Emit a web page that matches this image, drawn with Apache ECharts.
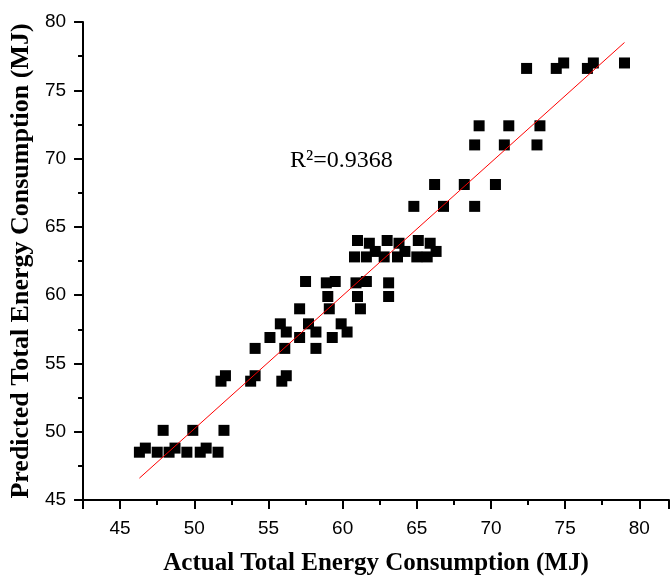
<!DOCTYPE html>
<html>
<head>
<meta charset="utf-8">
<title>Actual vs Predicted Energy</title>
<script src="https://cdn.jsdelivr.net/npm/echarts@6/dist/echarts.min.js"></script>
<style>
  html, body { margin: 0; padding: 0; background: #fff; }
  #chart { width: 672px; height: 581px; }
</style>
</head>
<body>
<div id="chart"></div>
<script>
// measured values (MJ)
var actual = [
  46.3, 46.7, 47.5, 47.9, 48.3, 48.7, 49.5, 49.9, 50.4, 50.8, 51.6, 52.0,
  51.8, 52.1, 53.8, 54.1, 54.1, 55.1, 55.9, 56.2, 56.1, 55.8, 56.2, 57.1,
  57.1, 57.5, 57.7, 58.2, 58.2, 58.9, 59.0, 59.1, 59.3, 59.5, 59.9, 60.3,
  60.8, 61.0, 60.9, 61.0, 61.2, 61.6, 61.6, 61.8, 62.2, 62.8, 63.0, 63.1,
  63.1, 63.7, 63.8, 64.2, 64.8, 65.0, 65.1, 65.7, 65.9, 66.2, 66.3, 66.8,
  68.2, 68.9, 68.9, 69.2, 70.3, 70.9, 71.2, 72.4, 73.1, 73.3, 74.4, 74.9,
  76.5, 76.9, 79.0
]
var predicted = [
  48.5, 48.8, 48.5, 50.1, 48.5, 48.8, 48.5, 50.1, 48.5, 48.8, 48.5, 50.1,
  53.7, 54.1, 53.7, 54.1, 56.1, 56.9, 53.7, 54.1, 56.1, 57.9, 57.3, 56.9,
  59.0, 61.0, 57.9, 57.3, 56.1, 60.9, 59.9, 59.0, 56.9, 61.0, 57.9, 57.3,
  62.8, 64.0, 60.9, 59.9, 59.0, 61.0, 62.8, 63.8, 63.2, 62.8, 64.0, 60.9,
  59.9, 62.8, 63.8, 63.2, 66.5, 62.8, 64.0, 62.8, 63.8, 68.1, 63.2, 66.5,
  68.1, 66.5, 71.0, 72.4, 68.1, 71.0, 72.4, 76.6, 71.0, 72.4, 76.6, 77.0,
  76.6, 77.0, 77.0
]
// regression line end points
var fitX = [46.3, 79.0]
var fitY = [46.6, 78.5]
var r2Label = 'R²=0.9368'

var points = actual.map(function (x, i) { return [x, predicted[i]] })
var fitLine = fitX.map(function (x, i) { return [x, fitY[i]] })

var axisFont = 'Liberation Sans, Arial, sans-serif'
var titleFont = 'Liberation Serif, Times New Roman, serif'

var chart = echarts.init(document.getElementById('chart'))
chart.setOption({
  backgroundColor: '#fff',
  animation: false,
  title: {
    text: r2Label,
    left: 285,
    top: 144,
    textStyle: {
      fontFamily: titleFont,
      fontWeight: 'normal',
      fontSize: 24,
      color: '#000'
    }
  },
  grid: {
    left: 82,
    top: 22,
    right: 0,
    bottom: 77
  },
  xAxis: {
    type: 'value',
    min: 42.5,
    max: 82,
    splitNumber: 8,
    name: 'Actual Total Energy Consumption (MJ)',
    nameLocation: 'middle',
    nameGap: 51,
    nameTextStyle: {
      fontFamily: titleFont,
      fontWeight: 'bold',
      fontSize: 25,
      color: '#000'
    },
    axisLine: { onZero: false, lineStyle: { color: '#000', width: 2 } },
    axisTick: { inside: false, length: 9, lineStyle: { color: '#000', width: 2 } },
    minorTick: { show: true, splitNumber: 2, length: 5, lineStyle: { color: '#000', width: 2 } },
    axisLabel: {
      margin: 19,
      fontFamily: axisFont,
      fontSize: 19,
      color: '#000',
      formatter: function (v) { return v % 5 === 0 ? v : '' }
    },
    splitLine: { show: false }
  },
  yAxis: {
    type: 'value',
    min: 45,
    max: 80,
    interval: 5,
    name: 'Predicted Total Energy Consumption (MJ)',
    nameLocation: 'middle',
    nameGap: 37,
    nameTextStyle: {
      fontFamily: titleFont,
      fontWeight: 'bold',
      fontSize: 26,
      color: '#000'
    },
    axisLine: { show: true, onZero: false, lineStyle: { color: '#000', width: 2 } },
    axisTick: { show: true, inside: false, length: 9, lineStyle: { color: '#000', width: 2 } },
    minorTick: { show: true, splitNumber: 2, length: 5, lineStyle: { color: '#000', width: 2 } },
    axisLabel: {
      margin: 17,
      fontFamily: axisFont,
      fontSize: 19,
      color: '#000'
    },
    splitLine: { show: false }
  },
  series: [
    {
      type: 'scatter',
      symbol: 'rect',
      symbolSize: 11,
      itemStyle: { color: '#000', opacity: 1 },
      data: points,
      z: 2
    },
    {
      // fitted line, drawn over the squares
      type: 'line',
      symbol: 'none',
      lineStyle: { color: '#ff0000', width: 1 },
      data: fitLine,
      z: 3
    }
  ]
})
</script>
</body>
</html>
